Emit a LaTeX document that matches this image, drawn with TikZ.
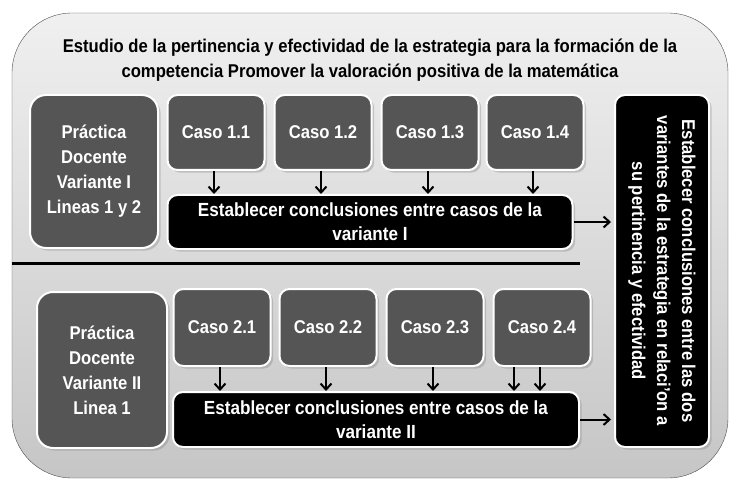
\documentclass[tikz,border=0pt]{standalone}
\usepackage{fontspec}
\setmainfont{Liberation Sans}[FakeStretch=0.9]
\usetikzlibrary{arrows.meta,positioning,shadows}
\definecolor{cajagris}{HTML}{555555}

\begin{document}
\begin{tikzpicture}[
    x=1pt, y=-1pt,
    >={Straight Barb[length=6pt,width=11pt]},
    font=\bfseries,
    marco/.style={
		rectangle,
		rounded corners=60pt,
		draw=black!70,
		top color=gray!12,
		bottom color=gray!45,
		minimum width=716pt,
		minimum height=465pt
	},
    practica/.style={
		rectangle,
		rounded corners=16pt,
		draw=white,
		line width=2pt,
		fill=cajagris,
		text=white,
		align=center,
		inner sep=0pt,
		drop shadow={opacity=0.35},
		font=\bfseries\fontsize{18.5}{25}\selectfont
	},
    caso/.style={
		practica,
		rounded corners=10pt,
		minimum width=97pt,
		minimum height=75pt
	},
    concl/.style={
		practica,
		rounded corners=10pt,
		fill=black,
		font=\bfseries\fontsize{19}{24}\selectfont
	},
    flecha/.style={->, line width=2pt}
  ]
  \useasboundingbox (0,0) rectangle (737,484);

  % fondo y titulo
  \node [marco] (fondo) at (370,245.5) {};
  \node [align=center, font=\bfseries\fontsize{18.5}{25}\selectfont] (titulo) at (370,60)
  {Estudio de la pertinencia y efectividad de la estrategia para la formación de la\\
   competencia Promover la valoración positiva de la matemática};

  % variante I
  \node [practica, minimum width=128pt, minimum height=153pt] (prac1) at (94,171.5)
  {Práctica\\Docente\\Variante I\\Lineas 1 y 2};
  \node [caso] (caso11) at (216,132.5) {Caso 1.1};
  \node [caso] (caso12) at (323,132.5) {Caso 1.2};
  \node [caso] (caso13) at (430,132.5) {Caso 1.3};
  \node [caso] (caso14) at (535,132.5) {Caso 1.4};
  \node [concl, minimum width=405pt, minimum height=54pt] (concl1) at (370,222)
  {Establecer conclusiones entre casos de la\\variante I};

  % separador
  \coordinate (sepA) at (12,263);
  \coordinate (sepB) at (580,263);
  \draw [line width=3pt] (sepA) -- (sepB);

  % variante II
  \node [practica, minimum width=130pt, minimum height=156pt] (prac2) at (102,370)
  {Práctica\\Docente\\Variante II\\Linea 1};
  \node [caso, minimum height=77pt] (caso21) at (222,327.5) {Caso 2.1};
  \node [caso, minimum height=77pt] (caso22) at (328,327.5) {Caso 2.2};
  \node [caso, minimum height=77pt] (caso23) at (435,327.5) {Caso 2.3};
  \node [caso, minimum height=77pt] (caso24) at (542,327.5) {Caso 2.4};
  \node [concl, minimum width=406pt, minimum height=55pt] (concl2) at (376,419.5)
  {Establecer conclusiones entre casos de la\\variante II};

  % conclusion final
  \node [concl, rotate=-90, minimum width=352pt, minimum height=94pt,
         font=\bfseries\fontsize{18.5}{25}\selectfont] (final) at (662,271)
  {Establecer conclusiones entre las dos\\
   variantes de la estrategia en relaci'on a\\
   su pertinencia y efectividad};

  \foreach \c in {11,12,13,14}
    \draw [flecha] ([xshift=-2pt]caso\c.south) -- ([xshift=-2pt]caso\c.south |- concl1.north);
  \foreach \c in {21,22,23,24}
    \draw [flecha] ([xshift=-2pt]caso\c.south) -- ([xshift=-2pt]caso\c.south |- concl2.north);
  \draw [flecha] ([xshift=-28pt]caso24.south) -- ([xshift=-28pt]caso24.south |- concl2.north);

  \draw [flecha] (concl1.east) -- ([xshift=-3pt]concl1.east -| final.south);
  \draw [flecha] (concl2.east) -- ([xshift=-3pt]concl2.east -| final.south);

\end{tikzpicture}
\end{document}
